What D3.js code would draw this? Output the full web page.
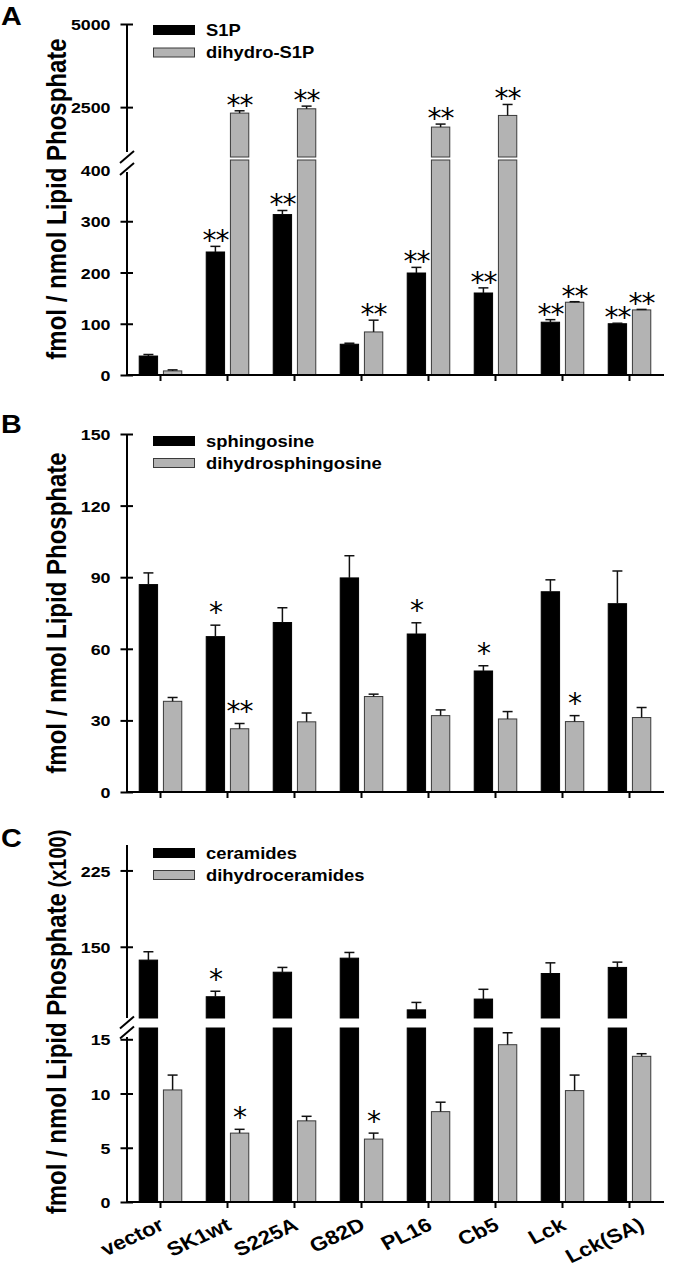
<!DOCTYPE html>
<html><head><meta charset="utf-8">
<script src="https://cdn.jsdelivr.net/npm/d3@7"></script>
<style>
body{margin:0;background:#fff}
svg{display:block}
text{font-family:"Liberation Sans",Arial,Helvetica,sans-serif;font-weight:bold;fill:#000}
text.star{font-family:"DejaVu Sans",sans-serif;font-weight:normal}
</style>
</head><body>
<svg id="c" width="674" height="1271"></svg>
<script>
// ---------- DATA ----------
const categories = ["vector","SK1wt","S225A","G82D","PL16","Cb5","Lck","Lck(SA)"];

// Panel A
const s1p       = [37, 240, 313, 60, 199, 160, 103, 100];
const s1pErr    = [40, 251, 321, 62, 210, 170, 108, 101];
const s1pSig    = ["", "**", "**", "", "**", "**", "**", "**"];
const dhS1p     = [8, 2320, 2450, 84, 1900, 2250, 142, 127];
const dhS1pErr  = [10, 2390, 2530, 107, 1990, 2580, 143, 128];
const dhS1pSig  = ["", "**", "**", "**", "**", "**", "**", "**"];
const ticksALower = [0, 100, 200, 300, 400];
const ticksAUpper = [2500, 5000];

// Panel B
const sph       = [86.9, 65.1, 71.0, 89.7, 66.2, 50.7, 83.9, 78.9];
const sphErr    = [91.8, 69.9, 77.2, 99.0, 70.9, 52.9, 88.9, 92.6];
const sphSig    = ["", "*", "", "", "*", "*", "", ""];
const dhSph     = [38.0, 26.5, 29.4, 40.0, 32.0, 30.6, 29.5, 31.2];
const dhSphErr  = [39.6, 28.7, 33.1, 41.0, 34.4, 33.7, 32.0, 35.4];
const dhSphSig  = ["", "**", "", "", "", "", "*", ""];
const ticksB = [0, 30, 60, 90, 120, 150];

// Panel C
const cer       = [136.9, 100.9, 125.0, 138.8, 88.0, 98.6, 123.7, 129.7];
const cerErr    = [145.1, 106.3, 129.7, 144.4, 95.3, 108.2, 134.2, 134.9];
const cerSig    = ["", "*", "", "", "", "", "", ""];
const dhCer     = [10.33, 6.35, 7.48, 5.8, 8.33, 14.5, 10.27, 13.43];
const dhCerErr  = [11.7, 6.7, 7.9, 6.35, 9.2, 15.6, 11.7, 13.67];
const dhCerSig  = ["", "*", "", "*", "", "", "", ""];
const ticksCLower = [0, 5, 10, 15];
const ticksCUpper = [150, 225];

// ---------- DRAWING ----------
const SX = 1.15;
const AX = 127;
const GRAY = "#b3b3b3";
const svg = d3.select("#c");

const x = d3.scaleBand().domain(categories).range([127, 663]).paddingInner(0.35).paddingOuter(0.175);
const xs = d3.scaleBand().domain([0, 1]).range([0, x.bandwidth()]).paddingInner(0.2);

function stext(parent, px, py, str, rot) {
  return parent.append("text")
    .attr("transform", `translate(${px},${py}) scale(${SX},1)` + (rot ? ` rotate(${rot})` : ""))
    .text(str);
}

function yAxis(g, scale, ticks, hide) {
  const ax = g.append("g").attr("transform", `translate(${AX},0)`)
    .call(d3.axisLeft(scale).tickValues(ticks).tickFormat(d3.format("d"))
      .tickSize(6.5).tickSizeOuter(0).tickPadding(0));
  ax.select(".domain").remove();
  ax.selectAll(".tick line").attr("x1", 6).attr("stroke", "#000").attr("stroke-width", 2)
    .filter(d => hide && hide.includes(d)).remove();
  ax.selectAll(".tick text").attr("x", -16.5 / SX).attr("dy", "0.36em")
    .attr("transform", `scale(${SX},1)`).attr("font-size", 15.5)
    .attr("font-family", '"Liberation Sans",Arial,sans-serif').attr("font-weight", "bold");
}

function panel(cfg) {
  const g = svg.append("g");
  const yLow = d3.scaleLinear().domain([0, cfg.lowMax]).range([cfg.y0, cfg.lowTop]);
  const yUp = cfg.upMax ? d3.scaleLinear().domain([cfg.upMin, cfg.upMax]).range([cfg.upBottom, cfg.upTop]) : null;
  const yOf = v => (yUp && v > cfg.lowMax) ? yUp(v) : yLow(v);

  cfg.series.forEach((s, si) => {
    const fill = si === 0 ? "#000" : GRAY;
    const stroke = si === 0 ? "#000" : "#3a3a3a";
    s.values.forEach((v, i) => {
      const bx = x(categories[i]) + xs(si), bw = xs.bandwidth(), cx = bx + bw / 2;
      const segs = [];
      if (yUp && v > cfg.lowMax) {
        segs.push([yLow(0), yLow(cfg.lowMax)]);
        segs.push([yUp(cfg.upMin), yUp(v)]);
      } else segs.push([yLow(0), yLow(v)]);
      segs.forEach(([b, t]) => g.append("rect")
        .attr("x", bx + 0.5).attr("y", t).attr("width", bw - 1).attr("height", b - t)
        .attr("fill", fill).attr("stroke", stroke).attr("stroke-width", 1));
      const yt = yOf(v), ye = yOf(s.err[i]);
      g.append("line").attr("x1", cx).attr("x2", cx).attr("y1", yt).attr("y2", ye)
        .attr("stroke", "#111").attr("stroke-width", 1.5);
      g.append("line").attr("x1", cx - 5).attr("x2", cx + 5).attr("y1", ye).attr("y2", ye)
        .attr("stroke", "#111").attr("stroke-width", 1.5);
      if (s.sig[i]) {
        g.append("text").attr("class", "star").attr("x", cx).attr("y", ye - cfg.starGap + 11)
          .attr("text-anchor", "middle").attr("font-size", 28).attr("letter-spacing", -1)
          .text(s.sig[i]);
      }
    });
  });

  // x axis
  const xa = g.append("g").attr("transform", `translate(0,${cfg.y0})`)
    .call(d3.axisBottom(x).tickSize(6).tickSizeOuter(0).tickFormat(""));
  xa.select(".domain").attr("stroke", "#000").attr("stroke-width", 2).attr("d", `M${AX - 1},0H664`);
  xa.selectAll(".tick line").attr("stroke", "#000").attr("stroke-width", 2);

  // y axes
  yAxis(g, yLow, cfg.lowTicks, cfg.hideTicks);
  g.append("line").attr("x1", AX).attr("x2", AX).attr("y1", cfg.y0 + 1).attr("y2", cfg.axisLowTop)
    .attr("stroke", "#000").attr("stroke-width", 2);
  if (yUp) {
    yAxis(g, yUp, cfg.upTicks);
    g.append("line").attr("x1", AX).attr("x2", AX).attr("y1", cfg.axisUpBottom).attr("y2", cfg.upTop)
      .attr("stroke", "#000").attr("stroke-width", 2);
    cfg.slashes.forEach(sy => g.append("line")
      .attr("x1", AX - 7).attr("y1", sy + 6).attr("x2", AX + 7).attr("y2", sy - 6)
      .attr("stroke", "#000").attr("stroke-width", 2));
  }

  // y label
  const yl = stext(g, 66, cfg.labelY, null, -90).attr("text-anchor", "middle").attr("font-size", 24);
  yl.append("tspan").text("fmol / nmol Lipid Phosphate");
  if (cfg.labelExtra) yl.append("tspan").attr("font-size", 20).text(" " + cfg.labelExtra);

  // panel letter
  stext(g, 1, cfg.letterY, cfg.letter).attr("font-size", 25);

  // legend
  cfg.series.forEach((s, si) => {
    const ly = cfg.legendY[si];
    g.append("rect").attr("x", 153.5).attr("y", ly - 4.5).attr("width", 41).attr("height", 9)
      .attr("fill", si === 0 ? "#000" : GRAY).attr("stroke", si === 0 ? "#000" : "#3a3a3a");
    stext(g, 206, ly, s.name).attr("font-size", 16).attr("dy", "0.36em");
  });

  if (cfg.xLabels) {
    categories.forEach((c, i) => {
      const last = i === categories.length - 1;
      const cx = x(c) + x.bandwidth() / 2;
      stext(g, cx + (last ? 16 : 5), cfg.y0 + 27, c, -28)
        .attr("text-anchor", "end").attr("font-size", 19.5);
    });
  }
}

panel({
  letter: "A", letterY: 25, labelY: 199,
  y0: 375, lowMax: 419.5, lowTop: 160, lowTicks: ticksALower, hideTicks: [400],
  upMin: 1000, upMax: 5000, upBottom: 157, upTop: 24, upTicks: ticksAUpper,
  axisLowTop: 172, axisUpBottom: 152, slashes: [157, 169],
  starGap: 7, legendY: [30, 52.5],
  series: [
    {name: "S1P", values: s1p, err: s1pErr, sig: s1pSig},
    {name: "dihydro-S1P", values: dhS1p, err: dhS1pErr, sig: dhS1pSig}
  ]
});

panel({
  letter: "B", letterY: 433, labelY: 613,
  y0: 792, lowMax: 150, lowTop: 434, lowTicks: ticksB,
  axisLowTop: 434,
  starGap: 14, legendY: [441, 463],
  series: [
    {name: "sphingosine", values: sph, err: sphErr, sig: sphSig},
    {name: "dihydrosphingosine", values: dhSph, err: dhSphErr, sig: dhSphSig}
  ]
});

panel({
  letter: "C", letterY: 847, labelY: 1022, labelExtra: "(x100)",
  y0: 1202, lowMax: 16.04, lowTop: 1028, lowTicks: ticksCLower,
  upMin: 80, upMax: 250, upBottom: 1018, upTop: 845, upTicks: ticksCUpper,
  axisLowTop: 1037, axisUpBottom: 1018, slashes: [1022.5, 1032.5],
  starGap: 13, legendY: [853, 875], xLabels: true,
  series: [
    {name: "ceramides", values: cer, err: cerErr, sig: cerSig},
    {name: "dihydroceramides", values: dhCer, err: dhCerErr, sig: dhCerSig}
  ]
});
</script>
</body></html>
